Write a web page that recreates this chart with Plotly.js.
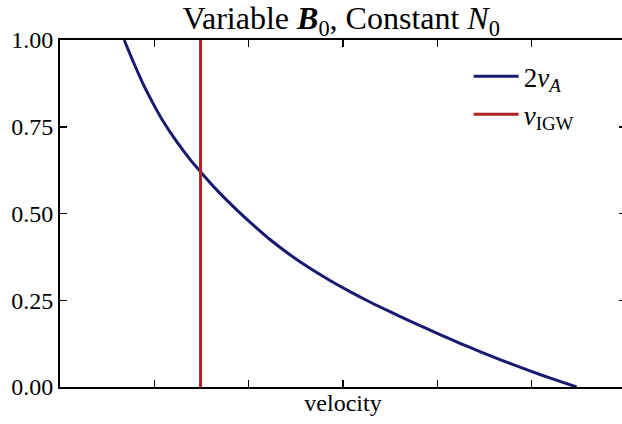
<!DOCTYPE html>
<html>
<head>
<meta charset="utf-8">
<script src="https://cdn.plot.ly/plotly-3.0.1.min.js"></script>
<style>
  html, body { margin: 0; padding: 0; overflow: hidden; background: #fff; }
</style>
</head>
<body>
<div id="chart"></div>
<script>
// 2v_A curve
const velX = [0.68, 0.777, 0.883, 0.989, 1.095, 1.237, 1.378, 1.484, 1.661, 1.890, 2.014, 2.226, 2.438,
              2.650, 2.862, 3.074, 3.286, 3.498, 3.711, 3.817, 4.028, 4.240, 4.452, 4.664, 4.876, 5.088,
              5.300, 5.477];
const velY = [1.0, 0.937, 0.872, 0.816, 0.765, 0.707, 0.656, 0.622, 0.568, 0.506, 0.475, 0.425, 0.381,
              0.342, 0.307, 0.275, 0.245, 0.217, 0.190, 0.177, 0.151, 0.126, 0.102, 0.079, 0.057, 0.036,
              0.016, 0.0];

// v_IGW vertical line
const igwX = [1.49, 1.49];
const igwY = [0, 1];

const yTicks = [0, 0.25, 0.5, 0.75, 1.0];
const yTickText = ['0.00', '0.25', '0.50', '0.75', '1.00'];

const serif = '"Liberation Serif", "DejaVu Serif", serif';

const traces = [
    {
        x: velX,
        y: velY,
        mode: 'lines',
        line: { color: '#191970', width: 3, shape: 'spline', smoothing: 0.8 },
        name: '2<i>v</i><sub><i>A</i></sub>',
        legendgroup: 'a'
    },
    {
        x: igwX,
        y: igwY,
        mode: 'lines',
        line: { color: '#b22222', width: 3 },
        name: '<i>v</i><sub>IGW</sub>',
        legendgroup: 'b'
    }
];

const layout = {
    width: 626,
    height: 424,
    margin: { l: 60, r: 0, t: 40, b: 37 },
    paper_bgcolor: '#fff',
    plot_bgcolor: '#fff',
    font: { family: serif, size: 22, color: '#000' },
    title: {
        text: 'Variable <b><i>B</i></b><sub>0</sub>, Constant <i>N</i><sub>0</sub>',
        font: { family: serif, size: 32 },
        x: 0.545,
        xanchor: 'center',
        y: 0.958,
        yanchor: 'middle'
    },
    xaxis: {
        range: [0, 6],
        dtick: 1,
        tick0: 0,
        showticklabels: false,
        ticks: 'inside',
        ticklen: 7,
        tickwidth: 1.5,
        tickcolor: '#000',
        showline: true,
        linewidth: 2,
        linecolor: '#000',
        mirror: 'ticks',
        showgrid: false,
        zeroline: false,
        title: { text: 'velocity', font: { family: serif, size: 24 }, standoff: 6 }
    },
    yaxis: {
        range: [0, 1],
        tickvals: yTicks,
        ticktext: yTickText,
        ticks: 'inside',
        ticklen: 7,
        tickwidth: 1.5,
        tickcolor: '#000',
        showline: true,
        linewidth: 2,
        linecolor: '#000',
        mirror: 'ticks',
        showgrid: false,
        zeroline: false,
        tickfont: { family: serif, size: 24 }
    },
    showlegend: true,
    legend: {
        x: 0.722,
        y: 0.965,
        xanchor: 'left',
        yanchor: 'top',
        bgcolor: 'rgba(0,0,0,0)',
        borderwidth: 0,
        font: { family: serif, size: 27 },
        tracegroupgap: 0,
        itemwidth: 45
    }
};

Plotly.newPlot('chart', traces, layout, { displayModeBar: false, staticPlot: true });
</script>
</body>
</html>
